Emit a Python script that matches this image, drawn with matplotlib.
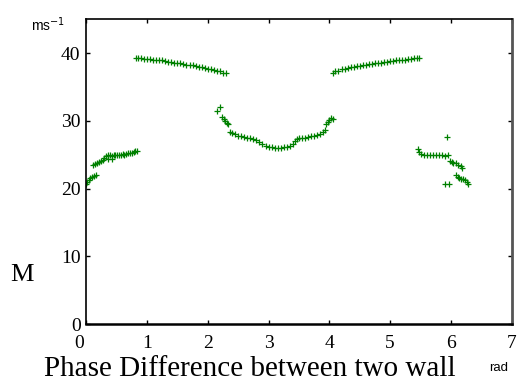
import matplotlib
matplotlib.use("Agg")
import matplotlib.pyplot as plt
import matplotlib.transforms as mtransforms

phase_low_left = [0.00, 0.02, 0.04, 0.07, 0.10, 0.13, 0.16,
                  0.12, 0.15, 0.18, 0.21, 0.24, 0.27, 0.30, 0.33, 0.36, 0.39, 0.42, 0.45,
                  0.48, 0.51, 0.54, 0.57, 0.60, 0.63, 0.66, 0.69, 0.72, 0.75, 0.78, 0.81, 0.84,
                  0.36, 0.42]
speed_low_left = [20.6, 20.9, 21.2, 21.5, 21.7, 21.9, 22.0,
                  23.5, 23.6, 23.7, 23.9, 24.0, 24.2, 24.5, 24.8, 24.9, 25.0, 24.8, 24.9,
                  25.0, 25.0, 24.9, 25.0, 25.1, 25.0, 25.1, 25.2, 25.2, 25.3, 25.4, 25.5, 25.6,
                  24.3, 24.4]

phase_high_left = [0.82, 0.86, 0.90, 0.95, 1.00, 1.05, 1.10, 1.15, 1.20, 1.25, 1.30, 1.35,
                   1.40, 1.45, 1.50, 1.55, 1.60, 1.65, 1.70, 1.75, 1.80, 1.85, 1.90, 1.95,
                   2.00, 2.05, 2.10, 2.15, 2.20, 2.25, 2.30]
speed_high_left = [39.2, 39.2, 39.2, 39.1, 39.1, 39.1, 39.0, 39.0, 38.9, 38.9, 38.8, 38.7,
                   38.7, 38.6, 38.5, 38.5, 38.4, 38.3, 38.2, 38.2, 38.1, 38.0, 37.9, 37.8,
                   37.7, 37.6, 37.5, 37.4, 37.3, 37.1, 37.0]

phase_mid = [2.15, 2.20, 2.23, 2.26, 2.29, 2.32, 2.34,
             2.36, 2.40, 2.45, 2.50, 2.55, 2.60, 2.65, 2.70, 2.75, 2.80, 2.85, 2.90, 2.95,
             3.00, 3.05, 3.10, 3.15, 3.20, 3.25, 3.30, 3.35, 3.40, 3.43, 3.46, 3.50, 3.55,
             3.60, 3.65, 3.70, 3.75, 3.80, 3.85, 3.90, 3.93,
             3.94, 3.97, 4.00, 4.03, 4.06]
speed_mid = [31.4, 32.0, 30.5, 30.3, 30.0, 29.7, 29.5,
             28.4, 28.2, 28.0, 27.8, 27.7, 27.6, 27.5, 27.5, 27.3, 27.1, 26.8, 26.5, 26.3,
             26.2, 26.1, 26.0, 26.0, 26.0, 26.1, 26.2, 26.3, 26.5, 27.0, 27.3, 27.4, 27.5,
             27.5, 27.6, 27.7, 27.8, 27.9, 28.1, 28.4, 28.6,
             29.5, 29.8, 30.1, 30.4, 30.2]

phase_high_right = [4.06, 4.10, 4.15, 4.20, 4.25, 4.30, 4.35, 4.40, 4.45, 4.50, 4.55, 4.60,
                    4.65, 4.70, 4.75, 4.80, 4.85, 4.90, 4.95, 5.00, 5.05, 5.10, 5.15, 5.20,
                    5.25, 5.30, 5.35, 5.40, 5.45, 5.48]
speed_high_right = [37.1, 37.3, 37.4, 37.6, 37.7, 37.8, 37.9, 38.0, 38.1, 38.1, 38.2, 38.3,
                    38.4, 38.4, 38.5, 38.6, 38.6, 38.7, 38.7, 38.8, 38.8, 38.9, 38.9, 39.0,
                    39.0, 39.1, 39.1, 39.2, 39.2, 39.2]

phase_low_right = [5.46, 5.48, 5.51, 5.55, 5.60, 5.65, 5.70, 5.75, 5.80, 5.85, 5.90, 5.95,
                   5.98, 6.01, 6.04, 6.08, 6.12, 6.16, 6.19,
                   6.08, 6.11, 6.14, 6.17, 6.20, 6.23, 6.26, 6.28,
                   5.94, 5.91, 5.97]
speed_low_right = [25.8, 25.4, 25.1, 25.0, 24.9, 25.0, 24.9, 24.9, 24.9, 24.9, 24.8, 24.9,
                   24.1, 23.9, 23.8, 23.8, 23.5, 23.3, 23.1,
                   22.0, 21.7, 21.6, 21.4, 21.4, 21.2, 20.9, 20.6,
                   27.6, 20.7, 20.7]

x_ticks = [0, 1, 2, 3, 4, 5, 6, 7]
y_ticks = [0, 10, 20, 30, 40]

SERIF = "Liberation Serif"
SANS = "Liberation Sans"
GREEN = "#008000"

fig = plt.figure(figsize=(5.19, 3.83), dpi=100)
ax = fig.add_axes([0.166, 0.154, 0.820, 0.796])

segments = [
    (phase_low_left, speed_low_left),
    (phase_high_left, speed_high_left),
    (phase_mid, speed_mid),
    (phase_high_right, speed_high_right),
    (phase_low_right, speed_low_right),
]
for xs, ys in segments:
    ax.plot(xs, ys, linestyle="none", marker="+", markersize=4,
            markeredgewidth=0.9, color=GREEN)

ax.set_xlim(0, 7)
ax.set_ylim(0, 45)
ax.set_xticks(x_ticks)
ax.set_yticks(y_ticks)
ax.tick_params(direction="in", length=3, width=1, top=True, right=True,
               labelsize=14)
ax.tick_params(axis="x", pad=8)
ax.tick_params(axis="y", pad=4)
for lab in ax.get_xticklabels() + ax.get_yticklabels():
    lab.set_fontfamily(SERIF)

# the zero on the x axis sits a little left, under the y axis zero
zero_shift = mtransforms.ScaledTranslation(-7 / 100, 0, fig.dpi_scale_trans)
first_x = ax.get_xticklabels()[0]
first_x.set_transform(first_x.get_transform() + zero_shift)

for side in ["left", "top"]:
    ax.spines[side].set_linewidth(1.2)
ax.spines["bottom"].set_linewidth(1.8)
ax.spines["right"].set_linewidth(2.0)
ax.spines["right"].set_color("#555555")

ax.set_xlabel("Phase Difference between two wall", fontsize=21,
              fontfamily=SERIF, va="center")
ax.xaxis.set_label_coords(0.385, -0.148)
fig.text(0.020, 0.283, "M", fontsize=19, fontfamily=SERIF, va="center", ha="left")
fig.text(0.060, 0.935, r"ms$^{-1}$", fontsize=10, fontfamily=SANS, va="center",
         math_fontfamily="dejavusans")
fig.text(0.942, 0.040, "rad", fontsize=9.5, fontfamily=SANS, va="center")

fig.savefig("out.png", dpi=100)
